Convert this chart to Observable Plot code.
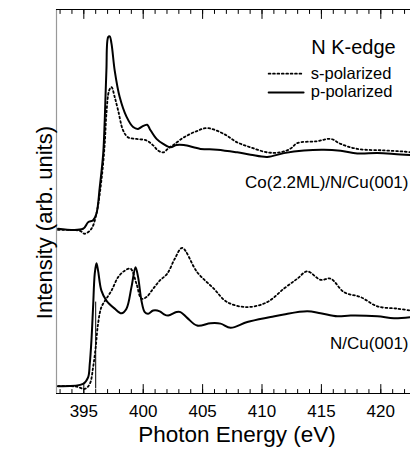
<!DOCTYPE html>
<html>
<head>
<meta charset="utf-8">
<script src="https://cdn.jsdelivr.net/npm/d3@7"></script>
<script src="https://cdn.jsdelivr.net/npm/@observablehq/plot@0.6"></script>
<style>
  html, body { margin: 0; padding: 0; background: #fff; }
  svg { display: block; }
</style>
</head>
<body>
<div id="chart"></div>
<script>
// Photon energy (eV) and intensity (arb. units)
const coP_E = [392.83,394.94,395.36,395.78,396.06,396.34,396.63,396.76,396.90,397.05,397.18,397.33,397.60,398.02,398.59,399.15,399.57,399.85,400.33,400.55,401.12,401.68,402.30,402.80,403.42,404.82,406.23,407.91,409.04,410.44,411.84,413.53,415.21,416.62,418.02,419.71,421.11,422.52];
const coP_I = [42.9,42.9,44.6,45.1,46.8,53.7,62.4,71.1,84.1,92.8,93.0,91.1,84.1,77.2,72.1,69.4,68.9,69.4,70.0,68.9,66.3,65.0,64.1,64.7,64.7,63.7,63.5,62.8,62.2,61.6,62.6,63.3,63.5,63.2,62.5,62.6,62.4,62.1];

const coS_E = [392.83,394.65,395.08,395.64,396.06,396.48,396.76,396.90,397.13,397.33,397.60,397.89,398.31,398.73,399.43,400.27,400.84,401.28,401.71,402.13,402.57,403.42,404.40,405.39,406.79,407.91,409.04,410.44,411.56,412.41,412.97,414.65,415.78,416.62,418.02,420.27,421.95,422.52];
const coS_I = [42.6,42.4,41.6,42.9,46.8,55.5,65.0,72.8,78.9,79.8,77.2,73.7,68.5,66.7,66.3,65.9,64.6,63.2,62.8,63.9,64.8,66.7,68.2,69.1,67.6,65.4,64.1,62.8,62.8,63.8,65.2,65.7,66.3,65.0,63.7,63.3,63.0,62.8];

const nP_E = [392.83,394.94,395.36,395.50,395.64,395.78,395.92,396.06,396.20,396.48,396.90,397.60,398.17,398.59,399.01,399.35,399.57,399.85,400.13,400.42,400.84,401.39,401.71,402.10,402.80,403.14,403.70,404.54,405.67,406.51,407.35,408.76,410.72,411.84,413.81,414.93,416.34,417.46,419.71,421.11,422.52];
const nP_I = [1.9,2.5,4.2,7.7,13.8,22.5,31.2,33.9,32.0,26.8,24.2,22.1,20.9,22.1,27.7,32.9,30.3,24.2,21.2,20.8,21.6,21.4,20.7,20.3,21.2,21.2,19.7,17.7,18.3,18.2,17.1,18.6,19.9,20.6,21.4,20.9,20.1,20.3,20.1,19.6,19.9];

const nS_E = [392.83,394.38,395.08,395.50,395.78,396.00,396.20,396.48,396.90,397.33,397.89,398.45,398.93,399.43,399.85,400.27,400.84,401.39,402.02,402.66,403.28,404.54,405.94,407.07,408.76,410.44,411.84,412.97,413.81,414.93,415.78,416.90,418.30,419.71,421.39,422.52];
const nS_I = [1.9,1.8,1.2,2.5,6.8,12.1,18.2,22.5,24.7,26.8,30.3,32.0,32.5,28.6,24.7,25.1,27.3,29.4,31.2,35.1,37.9,31.6,27.3,23.8,22.5,23.8,27.3,29.9,31.8,29.6,29.9,26.4,25.1,22.7,22.1,21.6];

// thin vertical marker in the N/Cu(001) spectrum
const markerE = [396.0];
const markerI = [1.2, 23.8];

const xDomain = [392.7, 422.5];
const yDomain = [0, 100];
const majorTicks = [395, 400, 405, 410, 415, 420];
const minorTicks = d3.range(393, 423, 1);

const legendLabels = ["s-polarized", "p-polarized"];
const legendE = [410.56, 413.5];
const legendTextE = 414.1;
const legendI = [82.0, 77.1];
const titleText = "N K-edge";
const sampleLabels = ["Co(2.2ML)/N/Cu(001)", "N/Cu(001)"];
const sampleLabelI = [53.4, 11.7];

const toRows = (E, I) => E.map((e, i) => ({E: e, I: I[i]}));
const coP = toRows(coP_E, coP_I);
const coS = toRows(coS_E, coS_I);
const nP = toRows(nP_E, nP_I);
const nS = toRows(nS_E, nS_I);

const FONT = "Arimo, 'Liberation Sans', Arial, Helvetica, sans-serif";
const dotted = "1.8 2.6";
const dotW = 1.8;

const tickUp = { draw(ctx, l) { ctx.moveTo(0, 0); ctx.lineTo(0, -l); } };

const plot = Plot.plot({
  width: 410,
  height: 452,
  marginLeft: 56,
  marginRight: 0,
  marginTop: 9,
  marginBottom: 59,
  style: { fontFamily: FONT, background: "#fff", color: "#000" },
  x: { domain: xDomain, axis: null },
  y: { domain: yDomain, axis: null },
  marks: [
    // frame lines
    Plot.ruleX([xDomain[0]], { stroke: "#999", strokeWidth: 1.2 }),
    Plot.ruleY([yDomain[0]], { stroke: "#000", strokeWidth: 1.2 }),
    Plot.ruleY([yDomain[1]], { stroke: "#000", strokeWidth: 1.2 }),
    // ticks, pointing inward
    Plot.vector(minorTicks, { x: d => d, frameAnchor: "bottom", length: 4, rotate: 0, anchor: "start", shape: tickUp, stroke: "#000", strokeWidth: 1 }),
    Plot.vector(majorTicks, { x: d => d, frameAnchor: "bottom", length: 9, rotate: 0, anchor: "start", shape: tickUp, stroke: "#000", strokeWidth: 1 }),
    Plot.vector(minorTicks, { x: d => d, frameAnchor: "top", length: 4, rotate: 180, anchor: "start", shape: tickUp, stroke: "#000", strokeWidth: 1 }),
    Plot.vector(majorTicks, { x: d => d, frameAnchor: "top", length: 9, rotate: 180, anchor: "start", shape: tickUp, stroke: "#000", strokeWidth: 1 }),
    Plot.axisX(majorTicks, { anchor: "bottom", tickSize: 0, tickPadding: 11, fontSize: 17, label: null, fill: "#000" }),
    // spectra
    Plot.line(coS, { x: "E", y: "I", stroke: "#000", strokeWidth: dotW, strokeDasharray: dotted, curve: "catmull-rom" }),
    Plot.line(coP, { x: "E", y: "I", stroke: "#000", strokeWidth: 2, curve: "catmull-rom" }),
    Plot.line(nS, { x: "E", y: "I", stroke: "#000", strokeWidth: dotW, strokeDasharray: dotted, curve: "catmull-rom" }),
    Plot.line(nP, { x: "E", y: "I", stroke: "#000", strokeWidth: 2, curve: "catmull-rom" }),
    Plot.ruleX(markerE, { y1: markerI[0], y2: markerI[1], stroke: "#000", strokeWidth: 1 }),
    // legend
    Plot.text([titleText], { x: 421.25, y: 88.3, text: d => d, textAnchor: "end", lineAnchor: "bottom", fontSize: 20, fill: "#000" }),
    Plot.line([{E: legendE[0], I: legendI[0] + 1.3}, {E: legendE[1], I: legendI[0] + 1.3}], { x: "E", y: "I", stroke: "#000", strokeWidth: dotW, strokeDasharray: dotted }),
    Plot.line([{E: legendE[0], I: legendI[1] + 1.3}, {E: legendE[1], I: legendI[1] + 1.3}], { x: "E", y: "I", stroke: "#000", strokeWidth: 2 }),
    Plot.text(legendLabels, { x: legendTextE, y: (d, i) => legendI[i], text: d => d, textAnchor: "start", lineAnchor: "bottom", fontSize: 16.5, fill: "#000" }),
    // sample labels
    Plot.text(sampleLabels, { x: xDomain[1], y: (d, i) => sampleLabelI[i], dx: -2, text: d => d, textAnchor: "end", lineAnchor: "bottom", fontSize: 17, fill: "#000" }),
    // axis titles
    Plot.text(["Photon Energy (eV)"], { x: 407.9, frameAnchor: "bottom", dy: 48, text: d => d, textAnchor: "middle", lineAnchor: "bottom", fontSize: 22.5, fill: "#000" }),
    Plot.text(["Intensity (arb. units)"], { y: 44.5, frameAnchor: "left", dx: -5, rotate: -90, text: d => d, textAnchor: "middle", lineAnchor: "bottom", fontSize: 22, fill: "#000" })
  ]
});

document.getElementById("chart").appendChild(plot);
</script>
</body>
</html>
